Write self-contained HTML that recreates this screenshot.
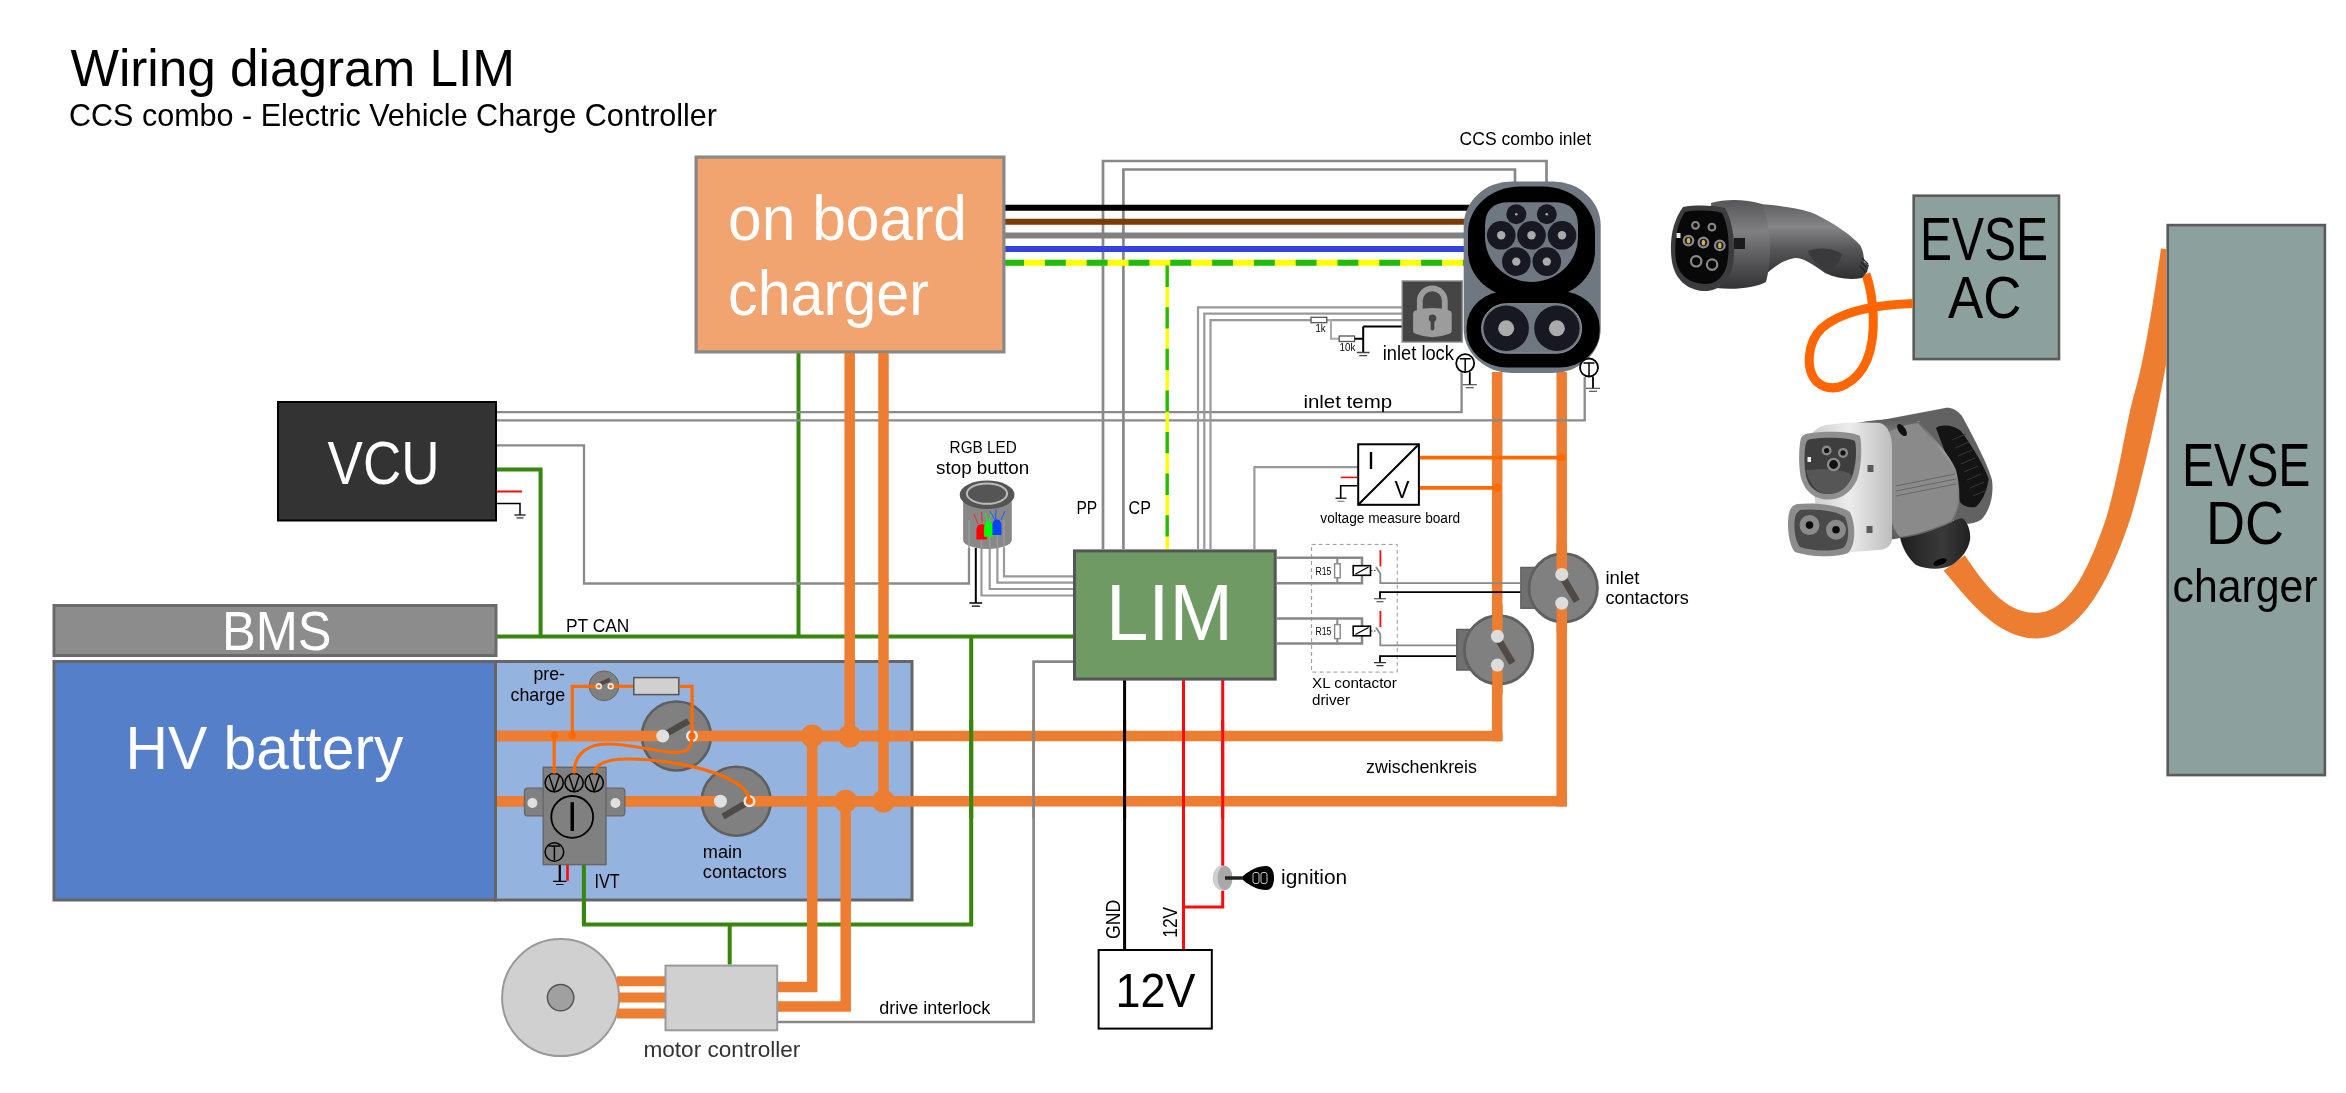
<!DOCTYPE html><html><head><meta charset="utf-8"><title>Wiring diagram LIM</title><style>html,body{margin:0;padding:0;background:#fff;overflow:hidden}svg{display:block;will-change:transform}text{font-family:"Liberation Sans",sans-serif}</style></head><body>
<svg width="2346" height="1093" viewBox="0 0 2346 1093">
<rect width="2346" height="1093" fill="#fff"/>
<text x="70.5" y="86" font-size="52" fill="#000" textLength="444.5" lengthAdjust="spacingAndGlyphs" >Wiring diagram LIM</text>
<text x="69" y="126" font-size="32" fill="#000" textLength="648" lengthAdjust="spacingAndGlyphs" >CCS combo - Electric Vehicle Charge Controller</text>
<path d="M798.5,353 V636.6" fill="none" stroke="#36870c" stroke-width="4" />
<path d="M1497.2,372 V741.25 M1561.7,372 V806.45" fill="none" stroke="#ed7d31" stroke-width="10.5" />
<path d="M1103,549 V161 H1546.5 V190" fill="none" stroke="#888888" stroke-width="2.7" />
<path d="M1123.4,549 V169.5 H1515 V190" fill="none" stroke="#888888" stroke-width="2.7" />
<path d="M497,412.1 H1461.6 V372" fill="none" stroke="#8a8a8a" stroke-width="2.3" />
<path d="M497,420.3 H1584.7 V377" fill="none" stroke="#8a8a8a" stroke-width="2.3" />
<path d="M497,445.3 H584 V583.5 H969 V548" fill="none" stroke="#8a8a8a" stroke-width="2.3" />
<path d="M1198,549 V307.3 H1402" fill="none" stroke="#999" stroke-width="2.2" />
<path d="M1204.3,549 V313.7 H1402" fill="none" stroke="#999" stroke-width="2.2" />
<path d="M1210.5,549 V320.1 H1402" fill="none" stroke="#999" stroke-width="2.2" />
<path d="M1327,320.1 H1331 V338.7 H1339" fill="none" stroke="#aaa" stroke-width="2" />
<rect x="1311" y="317.3" width="15.8" height="5.4" fill="#fff" stroke="#555" stroke-width="1.3"/>
<rect x="1339.2" y="336" width="15.4" height="5.5" fill="#fff" stroke="#555" stroke-width="1.3"/>
<path d="M1354.6,338.7 H1363.2 M1363.2,326.5 V352 M1363.2,326.5 H1402" fill="none" stroke="#000" stroke-width="2" />
<path d="M1356.8,352.5 H1369.6000000000001 M1359.2,355.7 H1367.2" stroke="#444" stroke-width="1.3" fill="none"/>
<text x="1315.5" y="332" font-size="10" fill="#000" textLength="10" lengthAdjust="spacingAndGlyphs" >1k</text>
<text x="1339.5" y="350.8" font-size="10" fill="#000" textLength="15.8" lengthAdjust="spacingAndGlyphs" >10k</text>
<path d="M981.5,548 V595.5 H1073" fill="none" stroke="#999" stroke-width="2.2" />
<path d="M989.7,548 V589 H1073" fill="none" stroke="#999" stroke-width="2.2" />
<path d="M997.4,548 V582.7 H1073" fill="none" stroke="#999" stroke-width="2.2" />
<path d="M1004,548 V576.3 H1073" fill="none" stroke="#999" stroke-width="2.2" />
<path d="M975.8,548 V603" fill="none" stroke="#000" stroke-width="2" />
<path d="M969.4,603 H982.1999999999999 M971.8,606.2 H979.8" stroke="#000" stroke-width="1.3" fill="none"/>
<path d="M778,1022 H1033.6 V661.6 H1073" fill="none" stroke="#888888" stroke-width="2.7" />
<path d="M1254.4,549 V467.2 H1358" fill="none" stroke="#999" stroke-width="2.2" />
<path d="M1005,207.7 H1475" fill="none" stroke="#000" stroke-width="6" />
<path d="M1005,221.7 H1475" fill="none" stroke="#7a3b06" stroke-width="6" />
<path d="M1005,235.6 H1475" fill="none" stroke="#808080" stroke-width="6" />
<path d="M1005,248.9 H1475" fill="none" stroke="#3344dd" stroke-width="6" />
<path d="M1005,262.8 H1475" fill="none" stroke="#ffff00" stroke-width="6" />
<path d="M1005,262.8 H1475" fill="none" stroke="#1fbb10" stroke-width="6" stroke-dasharray="20.9 20.9" stroke-dashoffset="1.9"/>
<path d="M1167.2,263 V549" fill="none" stroke="#ffff00" stroke-width="3.3" />
<path d="M1167.2,263 V549" fill="none" stroke="#1fbb10" stroke-width="3.3" stroke-dasharray="21.3 20.3" stroke-dashoffset="39"/>
<path d="M497,469.4 H540.6 V636.6" fill="none" stroke="#36870c" stroke-width="4" />
<path d="M497,636.6 H1073" fill="none" stroke="#36870c" stroke-width="4" />
<path d="M971.2,636.6 V924.4 H583.9 V864" fill="none" stroke="#36870c" stroke-width="4" />
<path d="M729.7,924.4 V964.6" fill="none" stroke="#36870c" stroke-width="4" />
<path d="M1124.6,680 V949" fill="none" stroke="#000" stroke-width="3" />
<path d="M1183.5,680 V949" fill="none" stroke="#ff0a0a" stroke-width="3" />
<path d="M1222.7,680 V907 H1183.5" fill="none" stroke="#ff0a0a" stroke-width="3" />
<rect x="696.1" y="157.1" width="307.8" height="194.8" fill="#f1a46f" stroke="#888" stroke-width="3.2" />
<text x="728" y="240" font-size="63" fill="#fff" textLength="239" lengthAdjust="spacingAndGlyphs" >on board</text>
<text x="728" y="314.5" font-size="63" fill="#fff" textLength="201" lengthAdjust="spacingAndGlyphs" >charger</text>
<rect x="278.0" y="402.0" width="218" height="118.5" fill="#333333" stroke="#000" stroke-width="2" />
<text x="327.5" y="484.4" font-size="61.5" fill="#fff" textLength="112" lengthAdjust="spacingAndGlyphs" >VCU</text>
<path d="M497,491.5 H522" fill="none" stroke="#ff0a0a" stroke-width="2" />
<path d="M497,503.4 H520 V515" fill="none" stroke="#000" stroke-width="1.5" />
<path d="M514.4,515 H525.6 M516.5,517.8 H523.5" stroke="#333" stroke-width="1.3" fill="none"/>
<rect x="54.0" y="605.5" width="442.0" height="50" fill="#8c8c8c" stroke="#6a6a6a" stroke-width="3" />
<text x="222" y="650.3" font-size="55.5" fill="#fff" textLength="109.5" lengthAdjust="spacingAndGlyphs" >BMS</text>
<rect x="54.0" y="661.5" width="441.5" height="238.5" fill="#5580c9" stroke="#666" stroke-width="3" />
<rect x="495.5" y="661.5" width="416.5" height="238.5" fill="#94b3df" stroke="#666" stroke-width="3" />
<text x="125.6" y="768.5" font-size="61" fill="#fff" textLength="277.8" lengthAdjust="spacingAndGlyphs" >HV battery</text>
<rect x="1074.5" y="550.9" width="200.70000000000005" height="128.20000000000005" fill="#6f9a64" stroke="#555" stroke-width="3" />
<text x="1106" y="640.4" font-size="80" fill="#fff" textLength="127" lengthAdjust="spacingAndGlyphs" >LIM</text>
<rect x="1098.6" y="950.0" width="113.20000000000005" height="78.59999999999991" fill="#fff" stroke="#000" stroke-width="2" />
<text x="1115.5" y="1007" font-size="47.5" fill="#000" textLength="80" lengthAdjust="spacingAndGlyphs" >12V</text>
<rect x="1913.7" y="195.70000000000002" width="145.3000000000001" height="163.39999999999998" fill="#8ca09e" stroke="#5a5a5a" stroke-width="2.6" />
<text x="1920" y="260" font-size="60.5" fill="#000" textLength="128" lengthAdjust="spacingAndGlyphs" >EVSE</text>
<text x="1948" y="318.4" font-size="60" fill="#000" textLength="73.5" lengthAdjust="spacingAndGlyphs" >AC</text>
<rect x="2167.7000000000003" y="225.10000000000002" width="157.19999999999973" height="549.9999999999999" fill="#8ca09e" stroke="#5a5a5a" stroke-width="2.6" />
<text x="2182" y="486" font-size="61" fill="#000" textLength="128.5" lengthAdjust="spacingAndGlyphs" >EVSE</text>
<text x="2206" y="543.9" font-size="60.5" fill="#000" textLength="78" lengthAdjust="spacingAndGlyphs" >DC</text>
<text x="2172.5" y="602.1" font-size="46" fill="#000" textLength="145" lengthAdjust="spacingAndGlyphs" >charger</text>
<path d="M497,736 H1502.45" fill="none" stroke="#ed7d31" stroke-width="10.5" />
<path d="M497,801.2 H1566.95" fill="none" stroke="#ed7d31" stroke-width="10.5" />
<path d="M849.7,353 V736" fill="none" stroke="#ed7d31" stroke-width="10.5" />
<path d="M883.5,353 V801" fill="none" stroke="#ed7d31" stroke-width="10.5" />
<path d="M778,987 H812.2 V736" fill="none" stroke="#ed7d31" stroke-width="10.5" />
<path d="M778,1006.5 H845.7 V801" fill="none" stroke="#ed7d31" stroke-width="10.5" />
<path d="M971.2,720 V818" fill="none" stroke="#36870c" stroke-width="4" />
<path d="M1033.6,720 V818" fill="none" stroke="#888888" stroke-width="2.7" />
<path d="M1124.6,720 V818" fill="none" stroke="#000" stroke-width="3" />
<path d="M1183.5,720 V818" fill="none" stroke="#ff0a0a" stroke-width="3" />
<path d="M1222.7,720 V818" fill="none" stroke="#ff0a0a" stroke-width="3" />
<circle cx="812.2" cy="736" r="11.5" fill="#ed7d31"/>
<circle cx="849.7" cy="736" r="11.5" fill="#ed7d31"/>
<circle cx="845.7" cy="801.2" r="11.5" fill="#ed7d31"/>
<circle cx="883.5" cy="801.2" r="11.5" fill="#ed7d31"/>
<path d="M583.9,924.4 V864" fill="none" stroke="#36870c" stroke-width="4" />
<circle cx="604" cy="685.8" r="14.9" fill="#808080" stroke="#666" stroke-width="1"/>
<path d="M600,684 L610,679.5" fill="none" stroke="#504a46" stroke-width="4" />
<circle cx="676.4" cy="736" r="34.5" fill="#808080" stroke="#5f5f5f" stroke-width="2.6"/>
<path d="M497,736 H662.7 M692,736 H913" fill="none" stroke="#ed7d31" stroke-width="10.5" />
<path d="M664,735 L688.5,721" fill="none" stroke="#504a46" stroke-width="6.5" />
<circle cx="662.7" cy="736" r="6.5" fill="#e0e0e0"/>
<circle cx="692" cy="736" r="6" fill="#e8e8e8"/>
<circle cx="692" cy="736" r="3.6" fill="#ff6a00"/>
<path d="M572.3,736 V686.3 H598.8" fill="none" stroke="#ff6a00" stroke-width="3.2" />
<path d="M610.7,686.3 H633" fill="none" stroke="#ff6a00" stroke-width="3.2" />
<rect x="633.8" y="677.6" width="45" height="17" fill="#d0d0d0" stroke="#555" stroke-width="1.5"/>
<path d="M679.5,686.3 H692.1 V736" fill="none" stroke="#ff6a00" stroke-width="3.2" />
<circle cx="598.8" cy="686.3" r="3.2" fill="#eee"/>
<circle cx="598.8" cy="686.3" r="1.6" fill="#ff6a00"/>
<circle cx="610.7" cy="686.3" r="3.2" fill="#eee"/>
<circle cx="610.7" cy="686.3" r="1.6" fill="#ff6a00"/>
<circle cx="572.3" cy="735.6" r="3.8" fill="#ff6a00"/>
<circle cx="554.4" cy="735.6" r="3.8" fill="#ff6a00"/>
<circle cx="736.2" cy="801.3" r="34.5" fill="#808080" stroke="#5f5f5f" stroke-width="2.6"/>
<path d="M625,801.2 H720.4 M749.4,801.2 H913" fill="none" stroke="#ed7d31" stroke-width="10.5" />
<path d="M748,802 L723,816.5" fill="none" stroke="#504a46" stroke-width="6.5" />
<circle cx="720.4" cy="801.2" r="6.5" fill="#e0e0e0"/>
<circle cx="749.4" cy="801.2" r="6" fill="#e8e8e8"/>
<circle cx="749.4" cy="801.2" r="3.6" fill="#ff6a00"/>
<path d="M497,801.2 H530" fill="none" stroke="#ed7d31" stroke-width="10.5" />
<rect x="524.5" y="788.2" width="24" height="27.6" rx="3" fill="#808080" stroke="#666" stroke-width="1.3"/>
<rect x="600.8" y="788.2" width="24" height="27.6" rx="3" fill="#808080" stroke="#666" stroke-width="1.3"/>
<rect x="543.2" y="767.3" width="62.8" height="97.3" fill="#808080" stroke="#666" stroke-width="1.4"/>
<circle cx="532.4" cy="803" r="5" fill="#e0e0e0"/>
<circle cx="615.4" cy="803" r="5" fill="#e0e0e0"/>
<circle cx="554.2" cy="782.7" r="9.1" fill="none" stroke="#000" stroke-width="1.5"/>
<path d="M549.0,775.5 L554.2,791 L559.4000000000001,775.5" fill="none" stroke="#000" stroke-width="1.4"/>
<circle cx="574.1" cy="782.7" r="9.1" fill="none" stroke="#000" stroke-width="1.5"/>
<path d="M568.9,775.5 L574.1,791 L579.3000000000001,775.5" fill="none" stroke="#000" stroke-width="1.4"/>
<circle cx="594.2" cy="782.7" r="9.1" fill="none" stroke="#000" stroke-width="1.5"/>
<path d="M589.0,775.5 L594.2,791 L599.4000000000001,775.5" fill="none" stroke="#000" stroke-width="1.4"/>
<circle cx="572.2" cy="816.9" r="20.9" fill="none" stroke="#000" stroke-width="1.8"/>
<rect x="570.5" y="802.2" width="3.5" height="28.8" fill="#000"/>
<circle cx="554.4" cy="852" r="9.3" fill="none" stroke="#000" stroke-width="1.5"/>
<path d="M548.5,846 H560.3 M554.4,846 V860" fill="none" stroke="#000" stroke-width="1.5"/>
<path d="M559.8,865 V881.3" fill="none" stroke="#000" stroke-width="2.2" />
<path d="M553,881.3 H566.5 M556,884.5 H563.5" fill="none" stroke="#000" stroke-width="1.2" />
<path d="M567.5,865 V880.8" fill="none" stroke="#ff0a0a" stroke-width="2.6" />
<path d="M554.2,773.6 V736" fill="none" stroke="#ff6a00" stroke-width="3.2" />
<path d="M574,773.6 C574,752 590,744 607,744 C630,744 650,750 668,752 C686,754 692,750 692,736" fill="none" stroke="#ff6a00" stroke-width="3.2" />
<path d="M594.2,773.6 C594.5,765 605,759 627,759 C660,759 700,766 725,777 C742,785 749,792 749.4,801" fill="none" stroke="#ff6a00" stroke-width="3.2" />
<text x="533.5" y="679.8" font-size="18" fill="#000" textLength="31.5" lengthAdjust="spacingAndGlyphs" >pre-</text>
<text x="510.5" y="700.7" font-size="19" fill="#000" textLength="54.6" lengthAdjust="spacingAndGlyphs" >charge</text>
<text x="594.5" y="887.9" font-size="19.5" fill="#000" textLength="25.2" lengthAdjust="spacingAndGlyphs" >IVT</text>
<text x="702.8" y="857.8" font-size="18.3" fill="#000" textLength="39.3" lengthAdjust="spacingAndGlyphs" >main</text>
<text x="702.8" y="878.3" font-size="18.3" fill="#000" textLength="84" lengthAdjust="spacingAndGlyphs" >contactors</text>
<circle cx="560.6" cy="997.6" r="58.5" fill="#d0d0d0" stroke="#999" stroke-width="2"/>
<circle cx="560.6" cy="997.6" r="13.2" fill="#a0a0a0" stroke="#555" stroke-width="1.5"/>
<path d="M617,981.2 H666 M619,997.6 H666 M617,1013.5 H666" fill="none" stroke="#ed7d31" stroke-width="10" />
<rect x="665.5" y="965.6" width="111.70000000000005" height="64.69999999999993" fill="#d0d0d0" stroke="#999" stroke-width="2" />
<text x="643.4" y="1057" font-size="21.5" fill="#333" textLength="157" lengthAdjust="spacingAndGlyphs" >motor controller</text>
<text x="879.2" y="1014" font-size="19" fill="#000" textLength="111.2" lengthAdjust="spacingAndGlyphs" >drive interlock</text>
<text x="566" y="631.6" font-size="18.6" fill="#000" textLength="63.3" lengthAdjust="spacingAndGlyphs" >PT CAN</text>
<text x="1076.4" y="513.8" font-size="18.4" fill="#000" textLength="20.7" lengthAdjust="spacingAndGlyphs" >PP</text>
<text x="1128.6" y="513.8" font-size="18.4" fill="#000" textLength="22.3" lengthAdjust="spacingAndGlyphs" >CP</text>
<text x="949.6" y="452.6" font-size="16.6" fill="#000" textLength="67.2" lengthAdjust="spacingAndGlyphs" >RGB LED</text>
<text x="936" y="473.8" font-size="18.6" fill="#000" textLength="93.3" lengthAdjust="spacingAndGlyphs" >stop button</text>
<text x="0" y="0" font-size="19.5" fill="#000" textLength="39.2" lengthAdjust="spacingAndGlyphs" transform="translate(1120.2,939) rotate(-90)">GND</text>
<text x="0" y="0" font-size="19.5" fill="#000" textLength="31" lengthAdjust="spacingAndGlyphs" transform="translate(1177.2,937.8) rotate(-90)">12V</text>
<text x="1366" y="772.8" font-size="18.5" fill="#000" textLength="110.9" lengthAdjust="spacingAndGlyphs" >zwischenkreis</text>
<text x="1281" y="883.7" font-size="20.5" fill="#000" textLength="66.2" lengthAdjust="spacingAndGlyphs" >ignition</text>
<text x="1303.4" y="407.6" font-size="18.5" fill="#000" textLength="88.7" lengthAdjust="spacingAndGlyphs" >inlet temp</text>
<text x="1382.8" y="359.8" font-size="20" fill="#000" textLength="71.1" lengthAdjust="spacingAndGlyphs" >inlet lock</text>
<text x="1459.6" y="145.3" font-size="18" fill="#000" textLength="131.5" lengthAdjust="spacingAndGlyphs" >CCS combo inlet</text>
<path d="M963.1,494 V540 A24.35,9 0 0 0 1011.8,540 V494 Z" fill="#888"/>
<path d="M969,520 V548" fill="none" stroke="#9a9a9a" stroke-width="1.5" />
<path d="M981.5,520 V548" fill="none" stroke="#9a9a9a" stroke-width="1.5" />
<path d="M989.7,520 V548" fill="none" stroke="#9a9a9a" stroke-width="1.5" />
<path d="M997.4,520 V548" fill="none" stroke="#9a9a9a" stroke-width="1.5" />
<path d="M1004,520 V548" fill="none" stroke="#9a9a9a" stroke-width="1.5" />
<path d="M976.4,539.4 V530 A5.2,6 0 0 1 986.8,530 V539.4 Z" fill="#ff0000"/>
<path d="M984.1,536.8 V527.6 A4.45,6 0 0 1 993,527.6 V536.8 Z" fill="#00ff00"/>
<path d="M992.4,534.9 V525.2 A4.5,6 0 0 1 1001.4,525.2 V534.9 Z" fill="#0044ff"/>
<path d="M974,514 L978,524 M981.5,512 L982,523" fill="none" stroke="#ff2222" stroke-width="1" />
<path d="M985.5,513 L987,522 M992,512 L989,521" fill="none" stroke="#22ee22" stroke-width="1" />
<path d="M990,511 L995,520 M996,509 L995.5,519 M1005,511 L1001,520" fill="none" stroke="#2255ff" stroke-width="1" />
<ellipse cx="987.1" cy="494.8" rx="27.4" ry="14.3" fill="#555"/>
<ellipse cx="987" cy="493.6" rx="20.1" ry="10.2" fill="#555" stroke="#bbb" stroke-width="2"/>
<rect x="1358.2" y="444.3" width="60.7" height="60.5" fill="#fff" stroke="#000" stroke-width="2"/>
<path d="M1358.2,504.8 L1418.9,444.3" fill="none" stroke="#000" stroke-width="2" />
<rect x="1369.8" y="452" width="2.4" height="17" fill="#000"/>
<text x="1394.5" y="498.2" font-size="24" fill="#000" textLength="15" lengthAdjust="spacingAndGlyphs" >V</text>
<path d="M1340.7,477.4 H1357" fill="none" stroke="#ff0a0a" stroke-width="1.6" />
<path d="M1357,485.8 H1340.7 V498.2" fill="none" stroke="#000" stroke-width="1.6" />
<path d="M1335.5,498.2 H1346.5" fill="none" stroke="#000" stroke-width="1.2" />
<path d="M1337.5,501.3 H1344.5" fill="none" stroke="#888" stroke-width="1.2" />
<path d="M1419.9,457.6 H1561.7" fill="none" stroke="#ff6a00" stroke-width="3.7" />
<path d="M1419.9,487.8 H1497.2" fill="none" stroke="#ff6a00" stroke-width="3.7" />
<circle cx="1561.7" cy="457.6" r="4" fill="#ff6a00"/>
<circle cx="1497.2" cy="487.8" r="4" fill="#ff6a00"/>
<text x="1320.3" y="522.6" font-size="15.5" fill="#000" textLength="139.8" lengthAdjust="spacingAndGlyphs" >voltage measure board</text>
<rect x="1311.6" y="544.4" width="85.6" height="127.7" fill="none" stroke="#999" stroke-width="1" stroke-dasharray="4 3"/>
<path d="M1276,557.8 H1362 V583.2 H1276" fill="none" stroke="#888" stroke-width="2.5" />
<path d="M1337.3,557.8 V583.2" fill="none" stroke="#888" stroke-width="2" />
<rect x="1334.6" y="563.8" width="5.6" height="14" fill="#fff" stroke="#888" stroke-width="1.4"/>
<rect x="1353.2" y="565.7" width="17.3" height="9.6" fill="#fff" stroke="#000" stroke-width="1.6"/>
<path d="M1355.5,574.0 L1368.5,567.0" fill="none" stroke="#000" stroke-width="1.4" />
<text x="1315.4" y="574.6" font-size="10.8" fill="#000" textLength="15.9" lengthAdjust="spacingAndGlyphs" >R15</text>
<path d="M1371,570.5 H1376" fill="none" stroke="#000" stroke-width="0.8" stroke-dasharray="1.5 1.5"/>
<path d="M1376,567.0 L1380.3,573.5 V583.2 H1520" fill="none" stroke="#888" stroke-width="1.8" />
<path d="M1380.4,550.1999999999999 V566.4" fill="none" stroke="#ff0a0a" stroke-width="1.8" />
<path d="M1380,598.7 V592.2 H1530" fill="none" stroke="#000" stroke-width="1.8" />
<path d="M1374,598.7 H1386 M1376.5,601.7 H1383.5" fill="none" stroke="#333" stroke-width="1.1" />
<path d="M1276,618.6 H1362 V643.4 H1276" fill="none" stroke="#888" stroke-width="2.5" />
<path d="M1337.3,618.6 V643.4" fill="none" stroke="#888" stroke-width="2" />
<rect x="1334.6" y="624.6" width="5.6" height="14" fill="#fff" stroke="#888" stroke-width="1.4"/>
<rect x="1353.2" y="626.2" width="17.3" height="9.6" fill="#fff" stroke="#000" stroke-width="1.6"/>
<path d="M1355.5,634.5 L1368.5,627.5" fill="none" stroke="#000" stroke-width="1.4" />
<text x="1315.4" y="635.1" font-size="10.8" fill="#000" textLength="15.9" lengthAdjust="spacingAndGlyphs" >R15</text>
<path d="M1371,631.0 H1376" fill="none" stroke="#000" stroke-width="0.8" stroke-dasharray="1.5 1.5"/>
<path d="M1376,627.5 L1380.3,634.0 V645.4 H1520" fill="none" stroke="#888" stroke-width="1.8" />
<path d="M1380.4,611.0 V627.2" fill="none" stroke="#ff0a0a" stroke-width="1.8" />
<path d="M1380,662.6 V656.1 H1530" fill="none" stroke="#000" stroke-width="1.8" />
<path d="M1374,662.6 H1386 M1376.5,665.6 H1383.5" fill="none" stroke="#333" stroke-width="1.1" />
<text x="1312.1" y="688.2" font-size="14.8" fill="#000" textLength="84.8" lengthAdjust="spacingAndGlyphs" >XL contactor</text>
<text x="1312.1" y="704.7" font-size="15" fill="#000" textLength="38" lengthAdjust="spacingAndGlyphs" >driver</text>
<rect x="1520.9" y="567.5" width="14" height="40.700000000000045" fill="#707070" stroke="#5f5f5f" stroke-width="1.5"/>
<circle cx="1563.2" cy="587.9" r="34.2" fill="#808080" stroke="#5f5f5f" stroke-width="2.8"/>
<path d="M1561.8,603.1999999999999 V632.9" fill="none" stroke="#ed7d31" stroke-width="10.5" />
<path d="M1561.8,542.9 V574.4" fill="none" stroke="#ed7d31" stroke-width="10.5" />
<path d="M1563.3,578.4 L1576.8,601.1999999999999" fill="none" stroke="#504a46" stroke-width="7" />
<circle cx="1561.8" cy="574.4" r="6.5" fill="#dcdcdc"/>
<circle cx="1561.8" cy="603.1999999999999" r="6.5" fill="#dcdcdc"/>
<rect x="1456.8" y="629.5" width="14" height="40.5" fill="#707070" stroke="#5f5f5f" stroke-width="1.5"/>
<circle cx="1498.6" cy="649.8" r="34.2" fill="#808080" stroke="#5f5f5f" stroke-width="2.8"/>
<path d="M1497.4,665.0999999999999 V694.8" fill="none" stroke="#ed7d31" stroke-width="10.5" />
<path d="M1497.4,604.8 V636.3" fill="none" stroke="#ed7d31" stroke-width="10.5" />
<path d="M1498.9,640.3 L1512.4,663.0999999999999" fill="none" stroke="#504a46" stroke-width="7" />
<circle cx="1497.4" cy="636.3" r="6.5" fill="#dcdcdc"/>
<circle cx="1497.4" cy="665.0999999999999" r="6.5" fill="#dcdcdc"/>
<text x="1605.4" y="583.6" font-size="19" fill="#000" textLength="34" lengthAdjust="spacingAndGlyphs" >inlet</text>
<text x="1605.4" y="604.4" font-size="19" fill="#000" textLength="83.5" lengthAdjust="spacingAndGlyphs" >contactors</text>
<path d="M1222.7,866 V890.6" fill="none" stroke="#fff" stroke-width="4" />
<ellipse cx="1222.4" cy="878" rx="9.8" ry="12.4" fill="#cfcfcf"/>
<ellipse cx="1225" cy="878" rx="7.5" ry="12" fill="#a8a8a8"/>
<path d="M1225,878 H1245" fill="none" stroke="#222" stroke-width="3.5" />
<path d="M1243,876 C1250,870 1258,866 1266,866 C1272,866 1274,872 1274,878 C1274,884 1272,890 1266,890 C1258,890 1250,886 1243,880 Z" fill="#000"/>
<rect x="1253" y="872.5" width="6" height="11" rx="2" fill="none" stroke="#fff" stroke-width="0.8"/>
<rect x="1261" y="872.5" width="6" height="11" rx="2" fill="none" stroke="#fff" stroke-width="0.8"/>
<rect x="1463.7" y="181.5" width="137" height="191.5" rx="48" ry="44" fill="#6f7880"/>
<rect x="1468" y="186.6" width="127" height="111" rx="52" ry="46" fill="#000"/>
<rect x="1466.6" y="291" width="133" height="76.5" rx="40" ry="36" fill="#000"/>
<rect x="1496" y="265" width="72" height="40" fill="#000"/>
<path d="M1485,226 Q1485,202.2 1509,202.2 H1554 Q1578,202.2 1578,226 V237 A46.5,45 0 0 1 1485,237 Z" fill="#6f7880"/>
<circle cx="1516.3" cy="214.2" r="10" fill="#181822"/>
<circle cx="1516.3" cy="214.2" r="1.3" fill="#aaa"/>
<circle cx="1546.8" cy="214.2" r="10" fill="#181822"/>
<circle cx="1546.8" cy="214.2" r="1.3" fill="#aaa"/>
<circle cx="1501.2" cy="235.3" r="14.3" fill="#181822"/>
<circle cx="1501.2" cy="235.3" r="4.2" fill="#aaa"/>
<circle cx="1531.5" cy="235.3" r="14.3" fill="#181822"/>
<circle cx="1531.5" cy="235.3" r="4.2" fill="#aaa"/>
<circle cx="1562" cy="235.3" r="14.3" fill="#181822"/>
<circle cx="1562" cy="235.3" r="4.2" fill="#aaa"/>
<circle cx="1516.3" cy="261.6" r="14.3" fill="#181822"/>
<circle cx="1516.3" cy="261.6" r="4.2" fill="#aaa"/>
<circle cx="1546.8" cy="261.6" r="14.3" fill="#181822"/>
<circle cx="1546.8" cy="261.6" r="4.2" fill="#aaa"/>
<rect x="1481.6" y="303.7" width="100" height="49.5" rx="24.7" fill="#6f7880" stroke="#8a949c" stroke-width="1"/>
<circle cx="1506.2" cy="328.3" r="22.7" fill="#181822"/>
<circle cx="1506.2" cy="328.3" r="8" fill="#aaa"/>
<circle cx="1556.9" cy="328.3" r="22.7" fill="#181822"/>
<circle cx="1556.9" cy="328.3" r="8" fill="#aaa"/>
<rect x="1402.2" y="281" width="60" height="61" fill="#454545" stroke="#888" stroke-width="1.4"/>
<path d="M1419.8,312 V300.9 A12.5,12.5 0 0 1 1444.8,300.9 V312" fill="none" stroke="#9c9c9c" stroke-width="5.8"/>
<path d="M1413.1,313.5 Q1413.1,311 1415.5,310.4 Q1432.4,305.5 1449.3,310.4 Q1451.7,311 1451.7,313.5 V331 Q1451.7,333.2 1449.3,333.8 Q1432.4,340.5 1415.5,333.8 Q1413.1,333.2 1413.1,331 Z" fill="#9c9c9c"/>
<circle cx="1432.5" cy="318.3" r="3.8" fill="#454545"/>
<rect x="1430.65" y="318" width="3.7" height="12.4" rx="1.85" fill="#454545"/>
<circle cx="1465.2" cy="363.2" r="9" fill="#fff" stroke="#000" stroke-width="1.8"/>
<path d="M1459.7,358.7 H1470.7 M1465.2,358.7 V372.2" fill="none" stroke="#000" stroke-width="1.5"/>
<path d="M1469.8,372.2 V384.8" fill="none" stroke="#000" stroke-width="1.8" />
<path d="M1462.8,384.8 H1476.8 M1465.8,387.8 H1473.8" fill="none" stroke="#333" stroke-width="1.1" />
<circle cx="1589" cy="367.5" r="9" fill="#fff" stroke="#000" stroke-width="1.8"/>
<path d="M1583.5,363.0 H1594.5 M1589,363.0 V376.5" fill="none" stroke="#000" stroke-width="1.5"/>
<path d="M1593,376.5 V388.2" fill="none" stroke="#000" stroke-width="1.8" />
<path d="M1586,388.2 H1600 M1589,391.2 H1597" fill="none" stroke="#333" stroke-width="1.1" />
<defs><linearGradient id="acg" x1="0" y1="0" x2="0" y2="1"><stop offset="0" stop-color="#606062"/><stop offset="0.3" stop-color="#858587"/><stop offset="0.6" stop-color="#555557"/><stop offset="1" stop-color="#2e2e30"/></linearGradient><linearGradient id="acc" x1="0" y1="0" x2="0" y2="1"><stop offset="0" stop-color="#565658"/><stop offset="0.35" stop-color="#808082"/><stop offset="0.7" stop-color="#555557"/><stop offset="1" stop-color="#333335"/></linearGradient><linearGradient id="dcb" x1="0" y1="0" x2="0" y2="1"><stop offset="0" stop-color="#5e5e5e"/><stop offset="0.25" stop-color="#9a9a9a"/><stop offset="0.7" stop-color="#7a7a7a"/><stop offset="1" stop-color="#555"/></linearGradient><linearGradient id="dch" x1="0" y1="0" x2="1" y2="0"><stop offset="0" stop-color="#c8c8c8"/><stop offset="0.5" stop-color="#ececec"/><stop offset="1" stop-color="#bdbdbd"/></linearGradient><linearGradient id="dcc" x1="0" y1="0" x2="1" y2="0"><stop offset="0" stop-color="#1e1e1e"/><stop offset="0.6" stop-color="#3a3a3a"/><stop offset="1" stop-color="#202020"/></linearGradient></defs>
<path d="M1866,274 C1874,298 1877,335 1867,360 C1857,383 1834,396 1817,382 C1805,370 1807,342 1822,328 C1840,312 1870,305 1913,303.5" fill="none" stroke="#ff6600" stroke-width="9" />
<path d="M1758,204 C1775,205 1800,208 1815,214 C1835,224 1850,234 1860,245 C1863,250 1864,256 1864,262 L1869,265 L1867,272 L1862,278 C1850,280 1838,279 1825,273 C1815,266 1805,258 1795,258 C1782,260 1772,268 1760,280 Z" fill="url(#acg)"/>
<path d="M1808,251 C1820,246 1835,249 1842,254 C1840,262 1835,268 1828,270 C1818,266 1810,258 1808,251 Z" fill="#3a3a3c"/>
<path d="M1862,258 L1868,264 M1861,262 L1867,268 M1860,266 L1866,272" fill="none" stroke="#222" stroke-width="1.2" />
<path d="M1711,203 C1725,199 1745,199 1762,204 C1770,225 1773,255 1766,282 C1755,288 1735,290 1716,288 Z" fill="url(#acc)"/>
<rect x="1734" y="238" width="11" height="11" fill="#1a1a1a"/>
<path d="M1683,207 C1695,205 1712,205 1725,208 C1733,222 1736,245 1733,265 C1729,282 1718,292 1703,291 C1688,290 1675,280 1672,262 C1669,242 1672,222 1683,207 Z" fill="#3c3c3e"/>
<path d="M1685,212 C1696,210 1711,210 1722,213 C1729,226 1730,247 1727,265 C1723,279 1714,285 1703,284 C1690,283 1679,276 1676,261 C1674,244 1676,225 1685,212 Z" fill="#080808"/>
<rect x="1676.5" y="233" width="4" height="5" fill="#eee"/>
<circle cx="1695.5" cy="225.3" r="3.4" fill="#111" stroke="#8a8a8a" stroke-width="2"/>
<circle cx="1711.9" cy="227.2" r="3.4" fill="#111" stroke="#8a8a8a" stroke-width="2"/>
<circle cx="1688.5" cy="240.6" r="4.8" fill="#1a1a1a" stroke="#8a8a8a" stroke-width="2.2"/>
<ellipse cx="1688.5" cy="240.6" rx="1.8" ry="2.8" fill="#d0b050"/>
<circle cx="1703.4" cy="242.5" r="4.8" fill="#1a1a1a" stroke="#8a8a8a" stroke-width="2.2"/>
<ellipse cx="1703.4" cy="242.5" rx="1.8" ry="2.8" fill="#d0b050"/>
<circle cx="1719.8" cy="245.4" r="4.8" fill="#1a1a1a" stroke="#8a8a8a" stroke-width="2.2"/>
<ellipse cx="1719.8" cy="245.4" rx="1.8" ry="2.8" fill="#d0b050"/>
<circle cx="1696.2" cy="261.3" r="5.2" fill="#050505" stroke="#8a8a8a" stroke-width="2.2"/>
<circle cx="1712.1" cy="264.6" r="5.2" fill="#050505" stroke="#8a8a8a" stroke-width="2.2"/>
<path d="M1943.7,570.8 C1965,595 1995,638.5 2036,638.5 C2080,638.5 2110,580 2130,519.5 C2140,490 2160,400 2166,364.7 V249 L2161,248.5 C2155,290 2145,360 2132.6,400 C2125,430 2118,480 2105.7,519.5 C2090,565 2070,612.9 2036,612.9 C2005,612.9 1985,585 1964.8,555.2 Z" fill="#ed7d31"/>
<path d="M1850,426 L1944,408.2 C1950,407 1956,409 1962,416 C1975,440 1988,465 1992,480 C1994,495 1990,510 1982,519 C1975,524 1968,524 1955,524 L1919,421 L1850,430 Z" fill="#626262"/>
<path d="M1936,428 C1942,424 1953,425 1961,431 C1975,450 1985,468 1988.6,479 C1987,492 1981,503 1975.5,507 C1968,508 1963,506 1960,502 C1957,485 1951,465 1945,452 Z" fill="#141414"/>
<path d="M1952,440 L1966,434" fill="none" stroke="#3a3a3a" stroke-width="0.9" />
<path d="M1955,448 L1969,442" fill="none" stroke="#3a3a3a" stroke-width="0.9" />
<path d="M1958,456 L1972,450" fill="none" stroke="#3a3a3a" stroke-width="0.9" />
<path d="M1961,464 L1975,458" fill="none" stroke="#3a3a3a" stroke-width="0.9" />
<path d="M1964,472 L1978,466" fill="none" stroke="#3a3a3a" stroke-width="0.9" />
<path d="M1967,480 L1981,474" fill="none" stroke="#3a3a3a" stroke-width="0.9" />
<path d="M1970,488 L1984,482" fill="none" stroke="#3a3a3a" stroke-width="0.9" />
<path d="M1973,496 L1987,490" fill="none" stroke="#3a3a3a" stroke-width="0.9" />
<path d="M1900,537 L1962,518 C1968,522 1971,532 1970,540 C1968,550 1962,558 1952,565 C1942,570 1928,570 1916,565 C1908,558 1902,548 1900,537 Z" fill="url(#dcc)"/>
<ellipse cx="1940" cy="562" rx="7" ry="3" fill="#000" transform="rotate(-20 1940 562)"/>
<path d="M1852,424 C1870,420 1895,417 1919.4,421.4 C1935,440 1950,455 1955.7,469.2 C1959,480 1960,495 1959,502.2 C1958,512 1955,518 1952.4,521.9 C1935,530 1915,537 1900,538 L1860,545 Z" fill="url(#dcb)"/>
<path d="M1889,432 C1896,428 1908,424 1918,423 C1933,441 1948,457 1954,470 C1958,482 1958,497 1957.5,503 C1956,513 1953,518 1951,521 C1935,529 1915,535 1900,537 C1893,530 1890,520 1890,505 Z" fill="#8a8a8a"/>
<path d="M1896,486 L1955,474 M1896,491 L1956,479 M1896,496 L1956,484" fill="none" stroke="#5e5e5e" stroke-width="0.8" />
<ellipse cx="1902" cy="430" rx="3.5" ry="7" fill="#111" transform="rotate(-35 1902 430)"/>
<path d="M1826,425 C1845,422 1865,422 1880,423 C1888,425 1892,436 1892,447 V538 C1892,546 1886,550 1878,550 L1840,553 L1820,548 L1815,500 L1806,440 C1812,432 1818,427 1826,425 Z" fill="url(#dch)"/>
<path d="M1808,433.5 C1825,431 1850,431 1860,436 C1862,445 1862,465 1857,480 C1850,494 1840,499.5 1828,499.5 C1815,499.5 1805,492 1801,478 C1798,465 1799,445 1801,438 C1803,435 1805,434 1808,433.5 Z" fill="#8f8f8f"/>
<path d="M1811,439 C1826,437 1847,437 1855,441 C1857,450 1856,466 1852,477 C1846,489 1838,494 1828,494 C1817,494 1809,488 1806,476 C1804,466 1804,450 1806,443 C1807,440 1809,439.5 1811,439 Z" fill="#3e3e3e"/>
<path d="M1806,470 C1810,486 1818,494 1828,494 C1840,494 1848,487 1852,475 C1845,470 1830,468 1806,470 Z" fill="#565656"/>
<rect x="1807.5" y="457" width="3.5" height="5" fill="#eee"/>
<circle cx="1826.6" cy="450.5" r="3.8" fill="#111" stroke="#8a8a8a" stroke-width="2.4"/>
<circle cx="1843" cy="452.9" r="3.8" fill="#111" stroke="#8a8a8a" stroke-width="2.4"/>
<circle cx="1833.6" cy="464.5" r="5.6" fill="#111" stroke="#8a8a8a" stroke-width="2.4"/>
<rect x="1867.5" y="465" width="6" height="7" fill="#5a5a5a"/>
<path d="M1797,504 C1815,502 1840,505 1850,512 C1856,525 1856,545 1848,553 C1835,558 1810,557 1795,552 C1788,545 1786,520 1790,510 C1792,506 1794,505 1797,504 Z" fill="#8c8c8c"/>
<path d="M1800,510 C1815,508 1838,511 1845,517 C1850,528 1849,543 1843,548 C1830,552 1812,551 1800,547 C1794,540 1793,522 1796,514 Z" fill="#4a4a4a"/>
<circle cx="1809.5" cy="525.1" r="10" fill="#8a8a8a"/>
<circle cx="1809.5" cy="525.1" r="3.8" fill="#0a0a0a"/>
<circle cx="1836" cy="529.8" r="10" fill="#8a8a8a"/>
<circle cx="1836" cy="529.8" r="3.8" fill="#0a0a0a"/>
<rect x="1866.5" y="526" width="6" height="7" fill="#5a5a5a"/>
</svg></body></html>
